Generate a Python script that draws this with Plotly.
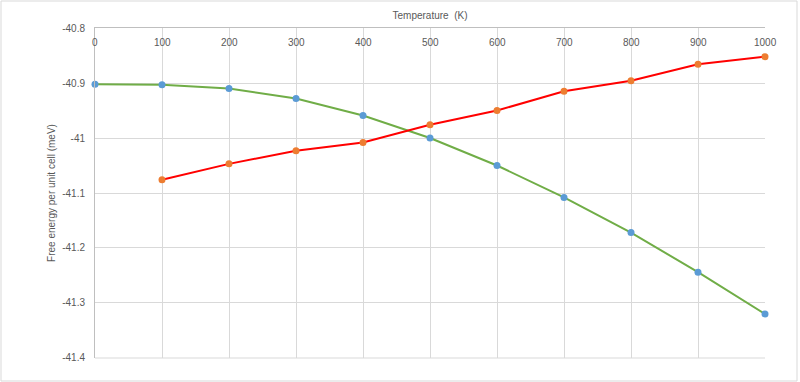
import plotly.graph_objects as go

temps_a = [0, 100, 200, 300, 400, 500, 600, 700, 800, 900, 1000]
energy_a = [-40.902, -40.903, -40.910, -40.928, -40.959, -41.000, -41.050, -41.108, -41.172, -41.244, -41.320]

temps_b = [100, 200, 300, 400, 500, 600, 700, 800, 900, 1000]
energy_b = [-41.076, -41.047, -41.023, -41.008, -40.976, -40.950, -40.915, -40.896, -40.866, -40.852]

x_ticks = [0, 100, 200, 300, 400, 500, 600, 700, 800, 900, 1000]
y_ticks = [-40.8, -40.9, -41.0, -41.1, -41.2, -41.3, -41.4]
y_tick_text = ["-40.8", "-40.9", "-41", "-41.1", "-41.2", "-41.3", "-41.4"]

font_color = "#595959"
font_family = "Liberation Sans, Arial, sans-serif"

fig = go.Figure()
fig.add_trace(go.Scatter(
    x=temps_a, y=energy_a, mode="lines+markers",
    line=dict(color="#70ad47", width=2),
    marker=dict(color="#5b9bd5", size=7),
    showlegend=False, cliponaxis=False,
))
fig.add_trace(go.Scatter(
    x=temps_b, y=energy_b, mode="lines+markers",
    line=dict(color="#ff0000", width=2),
    marker=dict(color="#ed7d31", size=7),
    showlegend=False, cliponaxis=False,
))

# x tick labels drawn just below the top axis line (inside plot area)
annotations = [
    dict(x=t, y=1, xref="x", yref="paper", text=str(t), showarrow=False,
         xanchor="center", yanchor="top", yshift=-7,
         font=dict(family=font_family, size=10, color=font_color))
    for t in x_ticks
]

fig.update_layout(
    width=800, height=382,
    margin=dict(l=95, r=35, t=28, b=24),
    paper_bgcolor="white", plot_bgcolor="white",
    font=dict(family=font_family, size=10, color=font_color),
    xaxis=dict(
        side="top", range=[0, 1000], tickvals=x_ticks,
        showticklabels=False, ticks="",
        showgrid=True, gridcolor="#d9d9d9", gridwidth=1,
        showline=True, linecolor="#bfbfbf", linewidth=1,
        zeroline=False,
        title=dict(text="Temperature  (K)", font=dict(size=10, color=font_color), standoff=5),
    ),
    yaxis=dict(
        range=[-41.4001, -40.7999], tickvals=y_tick_text and y_ticks, ticktext=y_tick_text,
        showgrid=True, gridcolor="#d9d9d9", gridwidth=1,
        showline=True, linecolor="#bfbfbf", linewidth=1,
        zeroline=False, ticks="", ticklen=0, ticklabelstandoff=7,
        title=dict(text="Free energy per unit cell (meV)", font=dict(size=10, color=font_color), standoff=4),
    ),
    annotations=annotations,
    shapes=[
        dict(type="rect", xref="paper", yref="paper",
             x0=(1 - 95) / 670, x1=(797 - 95) / 670,
             y0=(358 - 381) / 330, y1=(358 - 1) / 330,
             line=dict(color="#d9d9d9", width=1), fillcolor="rgba(0,0,0,0)", layer="below"),
        dict(type="line", xref="paper", yref="paper", x0=0, x1=1, y0=0, y1=0,
             line=dict(color="#d9d9d9", width=1), layer="below"),
    ],
)

fig.write_html("out.html")
